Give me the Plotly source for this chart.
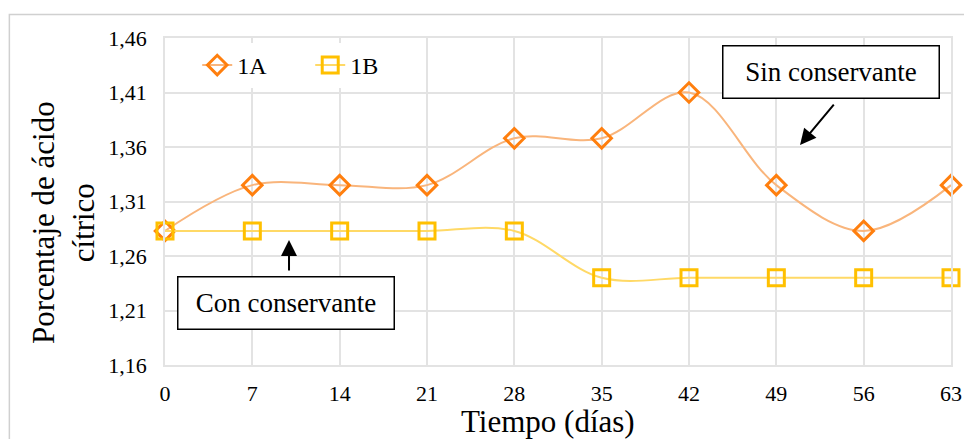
import plotly.graph_objects as go

dias = [0, 7, 14, 21, 28, 35, 42, 49, 56, 63]
serie_1a = [1.283, 1.325, 1.325, 1.325, 1.368, 1.368, 1.410, 1.325, 1.283, 1.325]
serie_1b = [1.283, 1.283, 1.283, 1.283, 1.283, 1.240, 1.240, 1.240, 1.240, 1.240]
y_ticks = [1.16, 1.21, 1.26, 1.31, 1.36, 1.41, 1.46]
y_tick_text = ["1,16", "1,21", "1,26", "1,31", "1,36", "1,41", "1,46"]

FONT = "Liberation Serif"
GRID = "#E3E3E3"

fig = go.Figure()
fig.add_trace(go.Scatter(
    x=dias, y=serie_1a, name="1A", mode="lines+markers", cliponaxis=False,
    line=dict(color="#F9B57C", width=2, shape="spline"),
    marker=dict(symbol="diamond-open", size=15, color="#FF7F0E",
                line=dict(color="#FF7F0E", width=3)),
))
fig.add_trace(go.Scatter(
    x=dias, y=serie_1b, name="1B", mode="lines+markers", cliponaxis=False,
    line=dict(color="#FFD966", width=2, shape="spline"),
    marker=dict(symbol="square-open", size=16, color="#FFC000",
                line=dict(color="#FFC000", width=3)),
))

fig.update_layout(
    width=964, height=439,
    margin=dict(l=165, r=13, t=38, b=74),
    paper_bgcolor="white", plot_bgcolor="white",
    font=dict(family=FONT, size=22, color="#000000"),
    showlegend=True,
    legend=dict(orientation="h", x=0.041, y=0.985, xanchor="left", yanchor="top",
                bgcolor="rgba(255,255,255,1)", font=dict(family=FONT, size=24),
                entrywidth=68, entrywidthmode="pixels"),
    xaxis=dict(range=[0, 63], tickvals=dias, ticktext=[str(d) for d in dias],
               automargin=False,
               showgrid=True, gridcolor=GRID, gridwidth=1.5,
               showline=True, linecolor=GRID, linewidth=1.5, mirror=True,
               zeroline=False, ticks="", ticklabelstandoff=8, tickfont=dict(family=FONT, size=22)),
    yaxis=dict(range=[1.16, 1.46], tickvals=y_ticks, ticktext=y_tick_text,
               automargin=False,
               showgrid=True, gridcolor=GRID, gridwidth=1.5,
               showline=True, linecolor=GRID, linewidth=1.5, mirror=True,
               zeroline=False, ticks="", ticklabelstandoff=12, tickfont=dict(family=FONT, size=22)),
)

# axis titles
fig.add_annotation(x=0.487, y=-0.174, xref="paper", yref="paper", text="Tiempo (días)",
                   showarrow=False, font=dict(family=FONT, size=31),
                   xanchor="center", yanchor="middle")
fig.add_annotation(x=-0.1298, y=0.437, xref="paper", yref="paper",
                   text="Porcentaje de ácido<br>cítrico", textangle=-90,
                   showarrow=False, font=dict(family=FONT, size=31),
                   xanchor="center", yanchor="middle")

# outer chart frame
fig.add_shape(type="rect", xref="paper", yref="paper",
              x0=-0.198, x1=1.05, y0=-0.3, y1=1.072,
              line=dict(color="#D0D0D0", width=1.5), fillcolor="rgba(0,0,0,0)", layer="below")

# labelled boxes
fig.add_annotation(x=53.42, y=1.4288, xref="x", yref="y", text="Sin conservante",
                   showarrow=False, font=dict(family=FONT, size=27), bgcolor="white",
                   bordercolor="black", borderwidth=1.5, width=213, height=49)
fig.add_annotation(x=9.70, y=1.2173, xref="x", yref="y", text="Con conservante",
                   showarrow=False, font=dict(family=FONT, size=27), bgcolor="white",
                   bordercolor="black", borderwidth=1.5, width=213, height=49)

# pointer arrows
fig.add_annotation(x=50.9, y=1.3618, xref="x", yref="y", text="", showarrow=True,
                   ax=35, ay=-42, arrowhead=2, arrowsize=1.6, arrowwidth=2, arrowcolor="black")
fig.add_annotation(x=9.94, y=1.2747, xref="x", yref="y", text="", showarrow=True,
                   ax=0, ay=32, arrowhead=2, arrowsize=1.6, arrowwidth=2, arrowcolor="black")

fig.write_html("out.html")
